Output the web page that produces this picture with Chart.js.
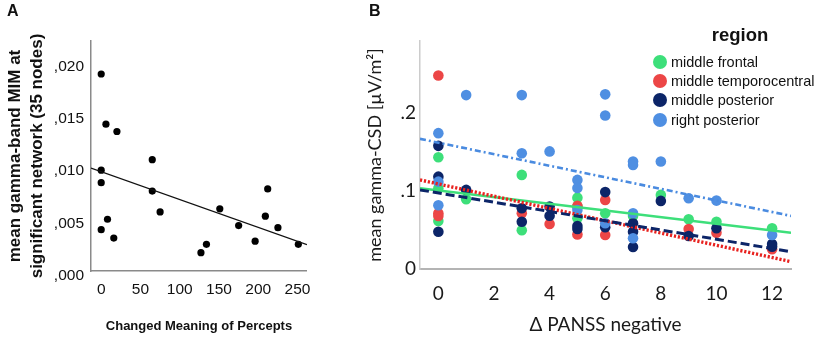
<!DOCTYPE html>
<html><head><meta charset="utf-8">
<script src="https://cdn.jsdelivr.net/npm/chart.js@4/dist/chart.umd.min.js"></script>
<style>
html,body{margin:0;padding:0;background:#fff;}
#wrap{position:relative;width:829px;height:339px;overflow:hidden;background:#fff;}
canvas{position:absolute;top:0;}
#cA{left:0;}
#cB{left:330px;}
.plabel{position:absolute;top:0;font:bold 16px "Liberation Sans",Arial,sans-serif;color:#111;}
#legTitle{position:absolute;left:690px;width:100px;top:22px;text-align:center;font:bold 18.5px "Liberation Sans",Arial,sans-serif;color:#111;line-height:26px;}
.legRow{position:absolute;left:653px;height:20px;font:14.5px "Liberation Sans",Arial,sans-serif;color:#111;line-height:20px;white-space:nowrap;}
.legDot{position:absolute;left:0;top:3px;width:14px;height:14px;border-radius:50%;}
.legText{position:absolute;left:18px;top:0;}
</style></head>
<body><div id="wrap">
<canvas id="cA" width="320" height="339"></canvas>
<canvas id="cB" width="499" height="339"></canvas>
<div class="plabel" style="left:7px;top:2px;">A</div>
<div class="plabel" style="left:369px;top:2px;">B</div>
<div id="legTitle">region</div>
<div id="legend"></div>
</div>
<script>
// ---------- Panel A data ----------
const percepts = [0, 6, 20, 65, 0, 0, 65, 75, 8, 0, 16, 151, 175, 212, 209, 225, 196, 127, 134, 251];
const mimValues = [0.0193, 0.0145, 0.0138, 0.0111, 0.0101, 0.0089, 0.0081, 0.0061, 0.0054, 0.0044, 0.0036, 0.0064, 0.0048, 0.0083, 0.0057, 0.0046, 0.0033, 0.0022, 0.0030, 0.0030];
const fitAx = [-13, 262];
const fitAy = [0.0103, 0.00298];
const xTicksA = [0, 50, 100, 150, 200, 250];
const yTicksA = [0, 0.005, 0.01, 0.015, 0.02];
const yTickLabelsA = [',000', ',005', ',010', ',015', ',020'];

// ---------- Panel B data ----------
const regionNames = ['middle frontal', 'middle temporocentral', 'middle posterior', 'right posterior'];
const regionColors = ['#3ddf7a', '#ec4646', '#0c2568', '#4f8fe2'];
const frontalX = [0, 0, 0, 1, 3, 3, 5, 5, 5, 6, 7, 8, 9, 10, 12];
const frontalY = [0.1432, 0.1035, 0.0615, 0.0894, 0.1205, 0.0496, 0.0914, 0.0799, 0.065, 0.0714, 0.068, 0.0949, 0.0637, 0.0606, 0.0522];
const temporoX = [0, 0, 0, 3, 4, 5, 5, 6, 6, 9, 10, 12];
const temporoY = [0.2478, 0.0714, 0.068, 0.0714, 0.0577, 0.0808, 0.0442, 0.0885, 0.0436, 0.0513, 0.0465, 0.0253];
const midPostX = [0, 0, 0, 1, 3, 3, 4, 4, 5, 5, 6, 6, 7, 7, 7, 8, 9, 10, 12, 12];
const midPostY = [0.1577, 0.1183, 0.0478, 0.1013, 0.0778, 0.0606, 0.0799, 0.0683, 0.0551, 0.0513, 0.0985, 0.0536, 0.0586, 0.0478, 0.0282, 0.0872, 0.0423, 0.0522, 0.0321, 0.0286];
const rightPostX = [0, 0, 0, 1, 3, 3, 4, 5, 5, 5, 6, 6, 6, 7, 7, 7, 7, 8, 9, 10, 12];
const rightPostY = [0.174, 0.1119, 0.0817, 0.2227, 0.2227, 0.1483, 0.1506, 0.1141, 0.1038, 0.0756, 0.2237, 0.1965, 0.0586, 0.1376, 0.1333, 0.0714, 0.0394, 0.1376, 0.0906, 0.0876, 0.0436];
const fitBx = [-0.66, 12.68];
const fitFrontal = [0.1035, 0.0465];
const fitTemporo = [0.1141, 0.0094];
const fitMidPost = [0.1013, 0.0222];
const fitRightPost = [0.1667, 0.068];
const xTicksB = [0, 2, 4, 6, 8, 10, 12];
const yTicksB = [0, 0.1, 0.2];
const yTickLabelsB = ['0', '.1', '.2'];

const pts = (xs, ys) => xs.map((x, i) => ({x: x, y: ys[i]}));
const setTicks = arr => (scale => { scale.ticks = arr.map(v => ({value: v})); });

// ---------- Chart A ----------
const arial = '"Liberation Sans", Arial, sans-serif';
new Chart(document.getElementById('cA'), {
  type: 'scatter',
  data: {
    datasets: [
      {data: pts(fitAx, fitAy), showLine: true, pointRadius: 0, borderColor: '#111', borderWidth: 1.3, order: 0},
      {data: pts(percepts, mimValues), pointRadius: 3.6, pointBackgroundColor: '#000', pointBorderWidth: 0, borderWidth: 0, order: 1}
    ]
  },
  options: {
    responsive: false, animation: false, events: [],
    layout: {padding: {top: 41, right: 12, left: 0, bottom: 0}},
    plugins: {legend: {display: false}, tooltip: {enabled: false}},
    scales: {
      x: {
        type: 'linear', min: -13, max: 262,
        afterBuildTicks: setTicks(xTicksA),
        afterFit: s => { s.height = 68; },
        grid: {display: false, drawTicks: false},
        border: {display: true, color: '#8a8a8a', width: 1.5},
        ticks: {autoSkip: false, padding: 9, color: '#111', font: {family: arial, size: 15.5}, maxRotation: 0},
        title: {display: true, text: 'Changed Meaning of Percepts', color: '#111', font: {family: arial, size: 13, weight: 'bold', lineHeight: 1.2}, padding: {top: 0, bottom: 4.5}}
      },
      y: {
        type: 'linear', min: 0.00045, max: 0.02246,
        afterBuildTicks: setTicks(yTicksA),
        afterFit: s => { s.width = 91; },
        grid: {display: false, drawTicks: false},
        border: {display: true, color: '#8a8a8a', width: 1.5},
        ticks: {autoSkip: false, padding: 7, color: '#111', font: {family: arial, size: 15.5},
          callback: (v, i) => yTickLabelsA[i]},
        title: {display: true, text: ['mean gamma-band MIM at', 'significant network (35 nodes)'], color: '#111',
          font: {family: arial, size: 17, weight: 'bold', lineHeight: 1.25}, padding: {top: 5, bottom: 0}}
      }
    }
  }
});

// ---------- Chart B ----------
const lato = 'Lato, "Open Sans", sans-serif';
const seriesX = [frontalX, temporoX, midPostX, rightPostX];
const seriesY = [frontalY, temporoY, midPostY, rightPostY];
const fits = [fitFrontal, fitTemporo, fitMidPost, fitRightPost];
const lineDash = [[], [2.2, 1.8], [9, 4], [6, 3, 2, 3]];
const lineWidth = [2.6, 3.4, 3, 2.6];
const lineColors = ['#3ddf7a', '#e8221f', '#0c2568', '#4a8be0'];
const pointOrder = [5, 4, 3, 2];
const dsB = [];
regionNames.forEach((name, k) => {
  dsB.push({label: name, data: pts(seriesX[k], seriesY[k]), pointRadius: 5.3, pointBackgroundColor: regionColors[k],
    pointBorderWidth: 0, borderWidth: 0, order: pointOrder[k]});
});
regionNames.forEach((name, k) => {
  dsB.push({label: name + ' fit', data: pts(fitBx, fits[k]), showLine: true, pointRadius: 0,
    borderColor: lineColors[k], borderWidth: lineWidth[k], borderDash: lineDash[k], order: 1 - k * 0.1});
});
new Chart(document.getElementById('cB'), {
  type: 'scatter',
  data: {datasets: dsB},
  options: {
    responsive: false, animation: false, events: [],
    layout: {padding: {top: 41, right: 38, left: 0, bottom: 0}},
    plugins: {legend: {display: false}, tooltip: {enabled: false}},
    scales: {
      x: {
        type: 'linear', min: -0.66, max: 12.68,
        afterBuildTicks: setTicks(xTicksB),
        afterFit: s => { s.height = 70; },
        grid: {display: false, drawTicks: false},
        border: {display: true, color: '#b4b4b4', width: 2},
        ticks: {autoSkip: false, padding: 13, color: '#1a1a1a', font: {family: lato, size: 19}, maxRotation: 0},
        title: {display: true, text: 'Δ PANSS negative', color: '#1a1a1a', font: {family: lato, size: 19, lineHeight: 1.2}, padding: {top: 0, bottom: 2.6}}
      },
      y: {
        type: 'linear', min: 0, max: 0.292,
        afterBuildTicks: setTicks(yTicksB),
        afterFit: s => { s.width = 90; },
        grid: {display: false, drawTicks: false},
        border: {display: true, color: '#cccccc', width: 1.5},
        ticks: {autoSkip: false, padding: 4, color: '#1a1a1a', font: {family: lato, size: 19},
          callback: (v, i) => yTickLabelsB[i]},
        title: {display: true, text: 'mean gamma-CSD [µV/m²]', color: '#1a1a1a',
          font: {family: lato, size: 18, lineHeight: 1.2}, padding: {top: 34, bottom: 0}}
      }
    }
  }
});

// ---------- Legend (HTML, from the series arrays) ----------
const legendRowsY = [52, 71, 90, 110];
const leg = document.getElementById('legend');
regionNames.forEach((name, k) => {
  const row = document.createElement('div');
  row.className = 'legRow';
  row.style.top = legendRowsY[k] + 'px';
  const dot = document.createElement('span');
  dot.className = 'legDot';
  dot.style.background = regionColors[k];
  const txt = document.createElement('span');
  txt.className = 'legText';
  txt.textContent = name;
  row.appendChild(dot); row.appendChild(txt);
  leg.appendChild(row);
});
</script>
</body></html>
